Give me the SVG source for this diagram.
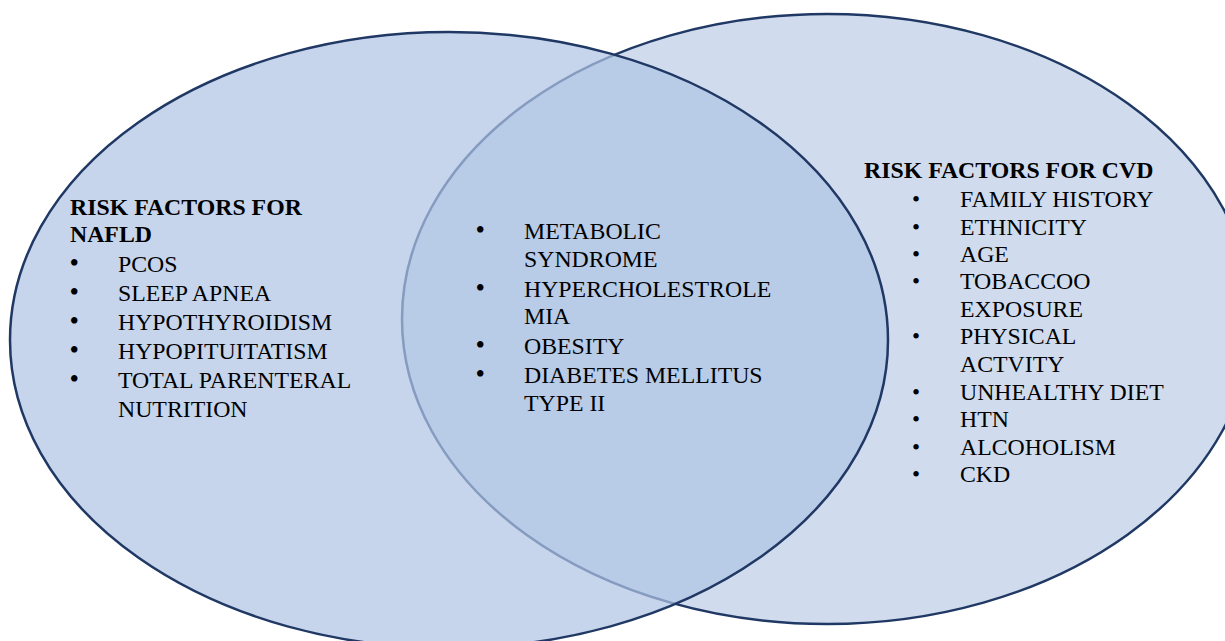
<svg xmlns="http://www.w3.org/2000/svg" width="1225" height="641" viewBox="0 0 1225 641">
<style>
.set{stroke:#203864;stroke-width:2.5}
.t{font-family:"Liberation Serif","Times New Roman",serif;font-size:23.8px;fill:#000}
.b{font-weight:bold}
.bl{font-family:"Liberation Serif","Times New Roman",serif;font-size:27px;fill:#000}
.bs{font-family:"Liberation Serif","Times New Roman",serif;font-size:23px;fill:#000}
</style>
<rect width="1225" height="641" fill="#ffffff"/>
<g id="cvd-set">
<ellipse class="set" cx="827" cy="319" rx="425" ry="305" fill="#d0dcee"/>
</g>
<g id="nafld-set">
<ellipse class="set" cx="449" cy="340" rx="439" ry="308" fill="#afc4e4" fill-opacity="0.71"/>
</g>
<g id="connectors"></g>
<g id="nafld-text">
<text class="t b" x="70" y="215">RISK FACTORS FOR</text>
<text class="t b" x="70" y="242">NAFLD</text>
<text class="bl" x="69.5" y="272">•</text>
<text class="bl" x="69.5" y="301">•</text>
<text class="bl" x="69.5" y="330">•</text>
<text class="bl" x="69.5" y="359">•</text>
<text class="bl" x="69.5" y="388">•</text>
<text class="t" x="118" y="272">PCOS</text>
<text class="t" x="118" y="301">SLEEP APNEA</text>
<text class="t" x="118" y="330">HYPOTHYROIDISM</text>
<text class="t" x="118" y="359">HYPOPITUITATISM</text>
<text class="t" x="118" y="388">TOTAL PARENTERAL</text>
<text class="t" x="118" y="417">NUTRITION</text>
</g>
<g id="common-text">
<text class="bl" x="475.5" y="239">•</text>
<text class="bl" x="475.5" y="297">•</text>
<text class="bl" x="475.5" y="354">•</text>
<text class="bl" x="475.5" y="383">•</text>
<text class="t" x="524" y="239">METABOLIC</text>
<text class="t" x="524" y="267">SYNDROME</text>
<text class="t" x="524" y="297">HYPERCHOLESTROLE</text>
<text class="t" x="524" y="324">MIA</text>
<text class="t" x="524" y="354">OBESITY</text>
<text class="t" x="524" y="383">DIABETES MELLITUS</text>
<text class="t" x="524" y="411">TYPE II</text>
</g>
<g id="cvd-text">
<text class="t b" x="864" y="178">RISK FACTORS FOR CVD</text>
<text class="bs" x="912" y="207">•</text>
<text class="bs" x="912" y="235">•</text>
<text class="bs" x="912" y="262">•</text>
<text class="bs" x="912" y="289">•</text>
<text class="bs" x="912" y="344">•</text>
<text class="bs" x="912" y="400">•</text>
<text class="bs" x="912" y="427">•</text>
<text class="bs" x="912" y="455">•</text>
<text class="bs" x="912" y="482">•</text>
<text class="t" x="960" y="207">FAMILY HISTORY</text>
<text class="t" x="960" y="235">ETHNICITY</text>
<text class="t" x="960" y="262">AGE</text>
<text class="t" x="960" y="289">TOBACCOO</text>
<text class="t" x="960" y="317">EXPOSURE</text>
<text class="t" x="960" y="344">PHYSICAL</text>
<text class="t" x="960" y="372">ACTVITY</text>
<text class="t" x="960" y="400">UNHEALTHY DIET</text>
<text class="t" x="960" y="427">HTN</text>
<text class="t" x="960" y="455">ALCOHOLISM</text>
<text class="t" x="960" y="482">CKD</text>
</g>
</svg>
